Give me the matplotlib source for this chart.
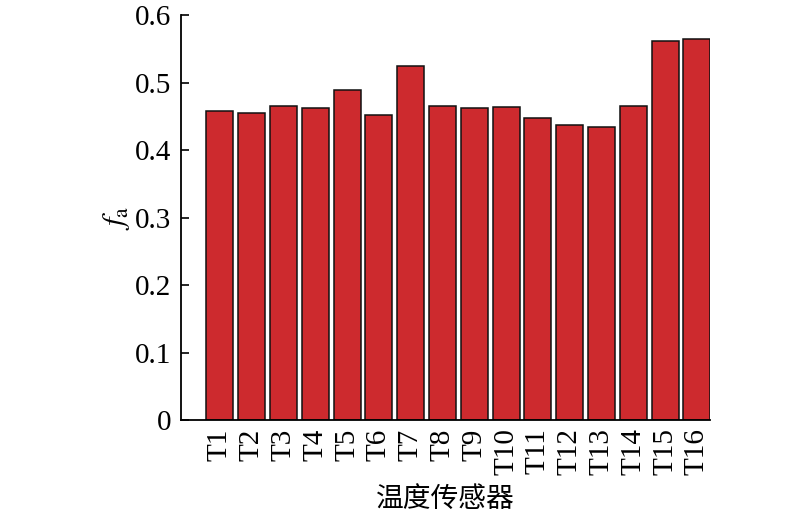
import matplotlib
matplotlib.use('Agg')
import matplotlib.pyplot as plt
import numpy as np

plt.rcParams.update({
    'font.family': ['Liberation Serif', 'Noto Sans CJK SC'],
    'mathtext.fontset': 'stix',
    'font.size': 16,
})

sensors = ['T1', 'T2', 'T3', 'T4', 'T5', 'T6', 'T7', 'T8',
           'T9', 'T10', 'T11', 'T12', 'T13', 'T14', 'T15', 'T16']
fa = [0.458, 0.455, 0.466, 0.462, 0.489, 0.452, 0.524, 0.466,
      0.462, 0.464, 0.447, 0.437, 0.434, 0.466, 0.561, 0.565]

fig = plt.figure(figsize=(8, 5.2), dpi=100)
ax = fig.add_axes([0.226, 0.192, 0.662, 0.779])

x = np.arange(len(sensors))
ax.bar(x, fa, width=0.85, color='#CD2A2E', edgecolor='#111111', linewidth=1.1)

ax.set_xlim(-1.23, len(sensors) - 1 + 0.425)
ax.set_ylim(0, 0.6)
ax.set_yticks([0, 0.1, 0.2, 0.3, 0.4, 0.5, 0.6])
ax.set_yticklabels(['0', '0.1', '0.2', '0.3', '0.4', '0.5', '0.6'])
ax.set_xticks(x)
ax.set_xticklabels(sensors, rotation=90)
ax.tick_params(axis='y', direction='in', length=6, width=1.2, labelsize=21, pad=7)
ax.tick_params(axis='x', length=0, labelsize=21, pad=6)

for s in ['top', 'right']:
    ax.spines[s].set_visible(False)
ax.spines['left'].set_linewidth(1.3)
ax.spines['bottom'].set_linewidth(1.3)

ax.set_ylabel(r'$f_\mathrm{a}$', fontsize=22, labelpad=2)
ax.set_xlabel('温度传感器', fontsize=20, family=['Noto Sans CJK SC'], labelpad=6)

fig.savefig('out.png', dpi=100)
